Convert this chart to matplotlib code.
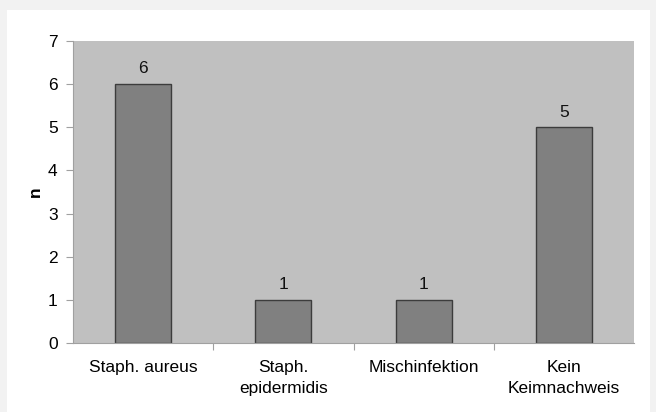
import matplotlib.pyplot as plt
from matplotlib.patches import Rectangle

categories = ["Staph. aureus", "Staph.\nepidermidis", "Mischinfektion", "Kein\nKeimnachweis"]
counts = [6, 1, 1, 5]

plt.rcParams['font.family'] = ['Liberation Sans', 'DejaVu Sans']

fig = plt.figure(figsize=(6.56, 4.12), dpi=100)
fig.patch.set_facecolor('#f2f2f2')
# white panel behind the chart
fig.patches.append(Rectangle((7 / 656, 0), 643 / 656, 402 / 412, transform=fig.transFigure,
                             facecolor='white', edgecolor='none', zorder=-10))

ax = fig.add_axes([73 / 656, 69 / 412, 561 / 656, 302 / 412])
ax.set_facecolor('#c0c0c0')

x = list(range(len(categories)))
bars = ax.bar(x, counts, width=0.4, color='#808080', edgecolor='#3c3c3c', linewidth=1.0, zorder=2)
for xi, v in zip(x, counts):
    ax.text(xi, v + 0.18, str(v), ha='center', va='bottom', fontsize=12.5, color='#111111')

ax.set_xlim(-0.5, len(categories) - 0.5)
ax.set_ylim(0, 7)
ax.set_yticks(range(0, 8))
ax.set_xticks([i + 0.5 for i in range(len(categories) - 1)], minor=False)
ax.set_xticklabels([])
ax.set_xticks(x, minor=True)
ax.set_xticklabels(categories, minor=True, fontsize=12.5, linespacing=1.55)
ax.tick_params(axis='x', which='minor', length=0, pad=12)
ax.tick_params(axis='x', which='major', length=5, color='#a0a0a0', direction='out')
ax.tick_params(axis='y', length=5, color='#a0a0a0', direction='out', labelsize=12.5, pad=6)

for side in ['top', 'right']:
    ax.spines[side].set_visible(False)
ax.spines['left'].set_color('#a0a0a0')
ax.spines['bottom'].set_color('#a0a0a0')

ax.set_ylabel('n', fontsize=12.5, fontweight='bold', labelpad=4)

fig.savefig('out.png', dpi=100, facecolor=fig.get_facecolor())
